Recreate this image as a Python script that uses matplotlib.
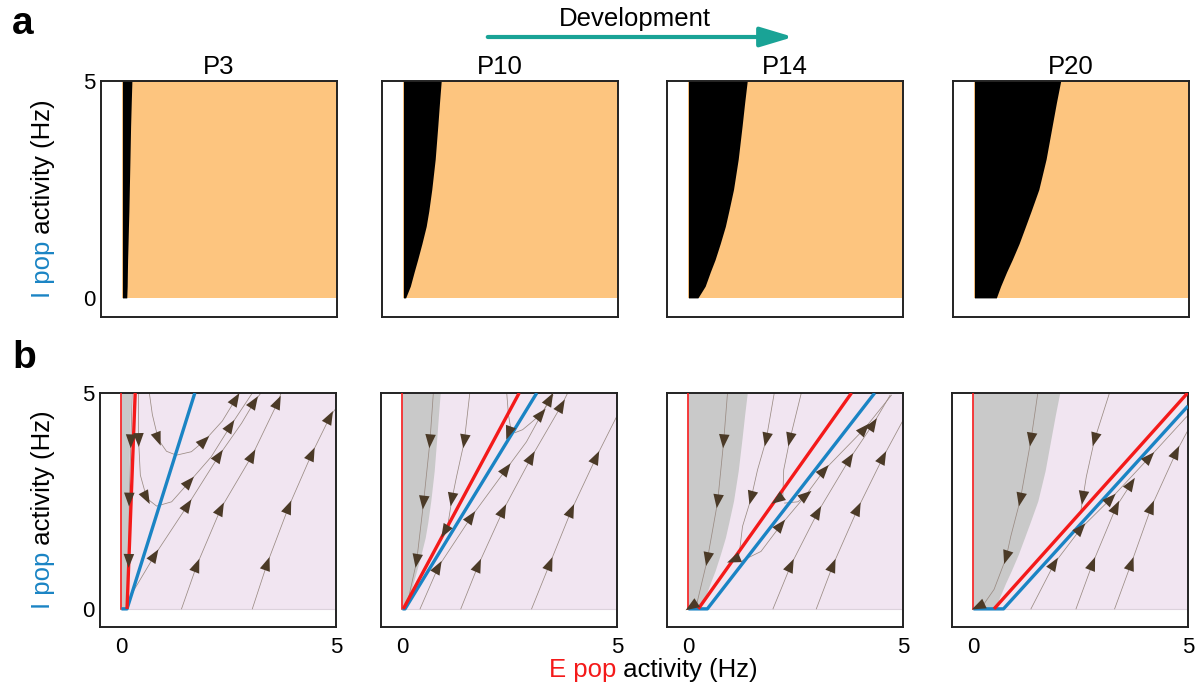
import numpy as np
import matplotlib.pyplot as plt
from matplotlib.patches import FancyArrowPatch

plt.rcParams['font.family'] = ['Liberation Sans', 'DejaVu Sans']

ages = ['P3', 'P10', 'P14', 'P20']

# I pop rates at which the edge of the black (a) / grey (b) region was read
edge_i = [0, 0.27, 0.6, 0.88, 1.25, 1.65, 2.0, 2.5, 3.2, 3.96, 4.5, 5]
edge_e = [
    [0.10, 0.11, 0.115, 0.12, 0.13, 0.14, 0.15, 0.16, 0.175, 0.19, 0.205, 0.22],
    [0.05, 0.16, 0.25, 0.33, 0.43, 0.53, 0.59, 0.66, 0.74, 0.80, 0.84, 0.88],
    [0.22, 0.39, 0.51, 0.62, 0.74, 0.86, 0.94, 1.05, 1.16, 1.25, 1.31, 1.37],
    [0.51, 0.61, 0.75, 0.88, 1.04, 1.19, 1.32, 1.50, 1.67, 1.81, 1.91, 2.01],
]

# nullclines (E rate, I rate)
e_null_x = [[0.13, 0.32], [0.02, 2.72], [0.23, 3.80], [0.48, 4.99]]
e_null_y = [0, 5]
i_null_x = [[0, 0.13, 1.71], [0, 0.06, 3.13], [0, 0.44, 4.34], [0, 0.70, 5.0]]
i_null_y = [[0, 0, 5], [0, 0, 5], [0, 0, 5], [0, 0, 4.70]]

# trajectories, points in the direction of flow; arrows = vertex indices
flows_p3 = [
    [(0.25, 5.0), (0.22, 3.87), (0.18, 2.52), (0.17, 1.1), (0.13, 0.0)],
    [(0.4, 5.0), (0.4, 3.9), (0.44, 3.1), (0.59, 2.56), (0.82, 2.38), (1.17, 2.48),
     (1.59, 2.95), (2.09, 3.52), (2.55, 4.25), (3.05, 5.0)],
    [(0.65, 5.0), (0.72, 4.5), (0.86, 3.92), (1.05, 3.65), (1.28, 3.56), (1.63, 3.64),
     (1.94, 3.9), (2.35, 4.35), (2.67, 4.87), (2.75, 5.0)],
    [(0.15, 0.15), (0.3, 0.45), (0.78, 1.25), (1.55, 2.41), (2.28, 3.56), (2.8, 4.3),
     (3.1, 4.8), (3.25, 5.0)],
    [(1.4, 0), (1.76, 1.02), (2.32, 2.33), (3.05, 3.56), (3.65, 4.8), (3.72, 5.0)],
    [(3.05, 0), (3.4, 1.06), (3.9, 2.37), (4.44, 3.6), (4.86, 4.45), (4.98, 4.62)],
]
arrows_p3 = [[1, 2, 3], [1, 3, 6, 8], [2, 6, 8], [2, 3, 4, 6], [1, 2, 3, 4], [1, 2, 3, 4]]

flows_p10 = [
    [(0.72, 5.0), (0.64, 3.87), (0.49, 2.45), (0.33, 1.1), (0.1, 0.06)],
    [(1.57, 5.0), (1.44, 3.87), (1.26, 3.06), (1.15, 2.52), (1.05, 1.9), (0.98, 1.78)],
    [(2.43, 5.0), (2.47, 4.5), (2.52, 4.2), (2.47, 4.06)],
    [(2.62, 4.08), (2.8, 4.15), (2.97, 4.29), (3.24, 4.52), (3.51, 4.95)],
    [(0.41, 0), (0.84, 0.98), (1.61, 2.14), (2.43, 3.25), (2.89, 3.87), (3.44, 4.87), (3.5, 4.98)],
    [(1.36, 0), (1.77, 1.02), (2.35, 2.29), (3.01, 3.52), (3.71, 4.72), (3.85, 5.0)],
    [(3.01, 0), (3.44, 1.06), (3.94, 2.29), (4.52, 3.52), (4.99, 4.45)],
]
arrows_p10 = [[1, 2, 3], [1, 3, 5], [3], [3], [1, 2, 3, 5], [1, 2, 3, 4], [1, 2, 3, 4]]

flows_p14 = [
    [(0.91, 5.0), (0.82, 3.87), (0.68, 2.48), (0.44, 1.14), (0.2, 0.14), (0.06, 0.05)],
    [(2.0, 5.0), (1.81, 3.91), (1.61, 3.22), (1.46, 2.56), (1.26, 1.91), (1.19, 1.33),
     (1.16, 1.18), (1.04, 1.13)],
    [(2.63, 5.0), (2.36, 3.91), (2.22, 3.22), (2.2, 2.62), (2.06, 2.52)],
    [(1.26, 1.12), (1.69, 1.33), (2.16, 1.95), (2.71, 2.6), (3.17, 3.22), (4.11, 4.18), (4.73, 4.95)],
    [(2.24, 2.45), (2.55, 2.48), (2.75, 2.64)],
    [(1.97, 0), (2.39, 1.02), (3.02, 2.25), (3.76, 3.48), (4.31, 4.29), (4.7, 4.95)],
    [(2.98, 0), (3.37, 1.02), (3.95, 2.33), (4.54, 3.52), (4.98, 4.33)],
]
arrows_p14 = [[1, 2, 3, 5], [1, 3, 7], [1, 4], [2, 4, 5], [2], [1, 2, 3, 4], [1, 2, 3, 4]]

flows_p20 = [
    [(1.5, 5.0), (1.34, 3.91), (1.09, 2.52), (0.87, 1.68), (0.76, 1.18), (0.48, 0.45),
     (0.25, 0.12), (0.1, 0.05)],
    [(3.17, 5.0), (2.82, 3.91), (2.63, 3.06), (2.55, 2.56), (2.5, 2.25)],
    [(1.34, 0), (1.89, 1.06), (2.51, 1.87), (3.21, 2.56), (4.11, 3.52), (4.93, 4.41), (5.0, 4.48)],
    [(2.39, 0), (2.78, 1.06), (3.33, 2.37), (3.68, 2.91)],
    [(3.29, 0), (3.68, 1.06), (4.15, 2.37), (4.73, 3.64), (5.0, 4.14)],
]
arrows_p20 = [[1, 2, 4, 7], [1, 3], [1, 2, 3, 4, 5], [1, 2, 3], [1, 2, 3]]

flows = [flows_p3, flows_p10, flows_p14, flows_p20]
arrows = [arrows_p3, arrows_p10, arrows_p14, arrows_p20]

orange = '#FDC57F'
lavender = '#F1E5F1'
grey = '#C9C9C9'
red = '#F41A1A'
blue = '#1A84C4'
brown = '#4B3A27'
flow_col = '#9A8B83'
teal = '#19A396'

W, H = 1196, 687
fig = plt.figure(figsize=(W / 100, H / 100), dpi=100)

lefts_a = [101, 382, 667, 953]
lefts_b = [100, 381, 667, 952]


def box(left, top, bottom, width=236):
    return [left / W, 1 - bottom / H, width / W, (bottom - top) / H]


def style(ax, ymin):
    ax.set_xlim(-0.5, 5.0)
    ax.set_ylim(ymin, 5.0)
    for s in ax.spines.values():
        s.set_linewidth(1.4)
        s.set_color('#222222')
    ax.tick_params(length=0, labelsize=16, pad=4)


def add_arrow(ax, pts, i):
    x, y = pts[i]
    a = np.array(pts[max(i - 1, 0)])
    b = np.array(pts[min(i + 1, len(pts) - 1)])
    d = (b - a) / np.hypot(*(b - a))
    ax.annotate('', xy=(x + 0.15 * d[0], y + 0.15 * d[1]),
                xytext=(x - 0.15 * d[0], y - 0.15 * d[1]),
                arrowprops=dict(arrowstyle='-|>,head_length=1.0,head_width=0.38',
                                color=brown, lw=0, shrinkA=0, shrinkB=0),
                zorder=5)


axes_a = []
axes_b = []
for k in range(4):
    # row a: stability map
    ax = fig.add_axes(box(lefts_a[k], 81, 317))
    style(ax, -0.44)
    ax.fill_between([0, 5], 0, 5, color=orange, lw=0)
    ax.fill_betweenx(edge_i, 0, edge_e[k], color='black', lw=0)
    ax.set_title(ages[k], fontsize=18.5, pad=5)
    ax.set_xticks([])
    if k == 0:
        ax.set_yticks([0, 5])
    else:
        ax.set_yticks([])
    axes_a.append(ax)

    # row b: phase plane
    ax = fig.add_axes(box(lefts_b[k], 393, 627))
    style(ax, -0.42)
    ax.fill_between([0, 5], 0, 5, color=lavender, lw=0)
    ax.fill_betweenx(edge_i, 0, edge_e[k], color=grey, lw=0)
    ax.plot([0, 5], [0, 0], color='#DCD2DC', lw=0.8)
    for pts in flows[k]:
        xs, ys = zip(*pts)
        ax.plot(xs, ys, color=flow_col, lw=0.55, zorder=2)
    ax.plot([0, 0], [0, 5], color=red, lw=1.2, zorder=3)
    ax.plot(i_null_x[k], i_null_y[k], color=blue, lw=2.4, zorder=3,
            solid_capstyle='butt')
    ax.plot(e_null_x[k], e_null_y, color=red, lw=2.4, zorder=3,
            solid_capstyle='butt')
    for pts, idx in zip(flows[k], arrows[k]):
        for i in idx:
            add_arrow(ax, pts, i)
    ax.set_xticks([0, 5])
    ax.tick_params(axis='x', pad=7)
    if k == 0:
        ax.set_yticks([0, 5])
    else:
        ax.set_yticks([])
    axes_b.append(ax)

# two-colour axis labels
for ax, ybot in [(axes_a[0], 298), (axes_b[0], 609)]:
    t = fig.text(43 / W, 1 - ybot / H, 'I pop', rotation=90, color=blue,
                 ha='center', va='bottom', fontsize=18.5)
    ax.annotate(' activity (Hz)', xy=(0.5, 1), xycoords=t, rotation=90,
                ha='center', va='bottom', fontsize=18.5, annotation_clip=False)

t = fig.text(549 / W, 1 - 670 / H, 'E pop', color=red, ha='left',
             va='center', fontsize=18.5)
axes_b[0].annotate(' activity (Hz)', xy=(1, 0), xycoords=t, ha='left',
                   va='bottom', fontsize=18.5, annotation_clip=False)

# development arrow
fig.text(635 / W, 1 - 19 / H, 'Development', ha='center', va='center', fontsize=18.5)
fig.add_artist(FancyArrowPatch((485 / W, 1 - 37 / H), (796 / W, 1 - 37 / H),
                               transform=fig.transFigure,
                               arrowstyle='-|>,head_length=2.0,head_width=0.6',
                               mutation_scale=10, color=teal, lw=3))

fig.text(12 / W, 1 - 6 / H, 'a', ha='left', va='top', fontsize=28, weight='bold')
fig.text(12 / W, 1 - 340 / H, 'b', ha='left', va='top', fontsize=28, weight='bold')

fig.savefig('out.png', dpi=100)
